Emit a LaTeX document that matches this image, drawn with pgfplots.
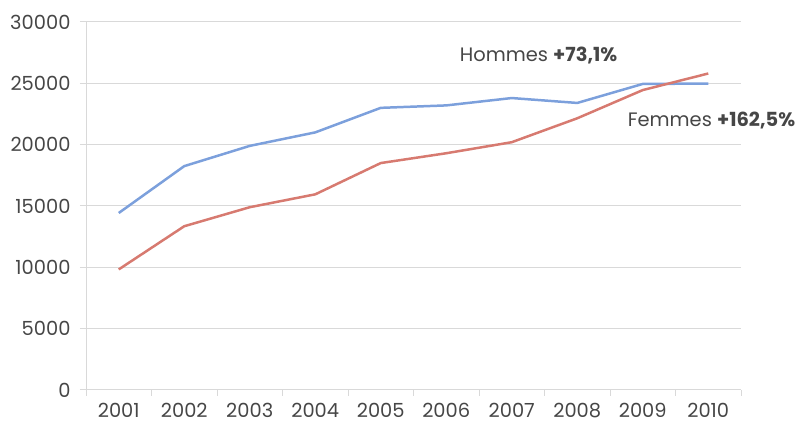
\documentclass[border=0pt]{standalone}
\usepackage{pgfplots}
\pgfplotsset{compat=1.18}
\usepackage{fontspec}
\setmainfont{Poppins}
\definecolor{hblue}{RGB}{124,160,220}
\definecolor{fred}{RGB}{215,122,112}
\definecolor{gridc}{RGB}{217,217,217}
\definecolor{txt}{RGB}{70,70,70}
\begin{document}
\begin{tikzpicture}[x=1bp,y=1bp]
\path (-86,-43) rectangle (715,390);
\begin{axis}[
  at={(0,0)}, anchor=south west,
  scale only axis, width=655bp, height=368bp,
  xmin=-0.5, xmax=9.5, ymin=0, ymax=30000,
  axis x line*=bottom, axis y line*=left,
  axis line style={gridc, line width=1pt},
  xtick={0,...,9},
  xticklabels={2001,2002,2003,2004,2005,2006,2007,2008,2009,2010},
  minor xtick={-0.5,0.5,...,9.5},
  major x tick style={draw=none},
  minor x tick style={gridc, line width=1pt},
  minor tick length=6bp,
  ytick={0,5000,...,30000},
  major tick length=6bp,
  tick align=outside,
  y tick style={gridc, line width=1pt},
  ymajorgrids, grid style={gridc, line width=1pt},
  scaled y ticks=false,
  yticklabel style={/pgf/number format/1000 sep={}},
  /pgf/number format/assume math mode=true,
  ticklabel style={font=\fontsize{19.5}{21}\selectfont, text=txt},
  xticklabel style={yshift=-4bp},
  yticklabel style={xshift=-6bp},
  clip=false,
]
\addplot[hblue, line width=2.5pt] coordinates {
(0,14430) (1,18250) (2,19900) (3,21000) (4,23000) (5,23200) (6,23800) (7,23400) (8,24950) (9,24980)};
\addplot[fred, line width=2.5pt] coordinates {
(0,9830) (1,13350) (2,14900) (3,15950) (4,18500) (5,19300) (6,20200) (7,22150) (8,24450) (9,25800)};
\node[font=\fontsize{19.5}{21}\selectfont, text=txt] at (axis cs:6.41,27300) {Hommes \textbf{+73,1\%}};
\node[font=\fontsize{19.5}{21}\selectfont, text=txt] at (axis cs:9.05,22000) {Femmes \textbf{+162,5\%}};
\end{axis}
\end{tikzpicture}
\end{document}
